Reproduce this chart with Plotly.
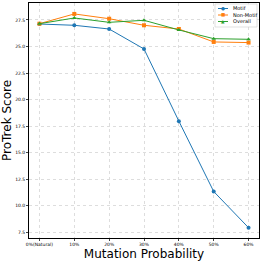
import plotly.graph_objects as go

categories = ["0%(Natural)", "10%", "20%", "30%", "40%", "50%", "60%"]
motif = [27.12, 27.0, 26.65, 24.77, 17.97, 11.34, 7.93]
non_motif = [27.15, 28.07, 27.62, 27.0, 26.65, 25.43, 25.37]
overall = [27.15, 27.69, 27.28, 27.47, 26.56, 25.74, 25.68]
y_ticks = [7.5, 10.0, 12.5, 15.0, 17.5, 20.0, 22.5, 25.0, 27.5]

x = list(range(len(categories)))
fig = go.Figure()
series = [
    ("Motif", motif, "#1f77b4", "circle", "●"),
    ("Non-Motif", non_motif, "#ff7f0e", "square", "■"),
    ("Overall", overall, "#2ca02c", "triangle-up", "▲"),
]
for name, vals, col, sym, _ in series:
    fig.add_trace(go.Scatter(
        x=x, y=vals, name=name, mode="lines+markers",
        line=dict(color=col, width=1),
        marker=dict(color=col, symbol=sym, size=4),
        showlegend=False,
    ))

W, H = 263, 262
L, R, T, B = 29, 4, 3, 24
pw, ph = W - L - R, H - T - B

def px(xp):
    return (xp - L) / pw

def py(yp):
    return 1 - (yp - T) / ph

# compact legend box (matplotlib-style)
fig.add_shape(type="rect", xref="paper", yref="paper",
              x0=px(215), x1=px(257), y0=py(27), y1=py(4),
              line=dict(color="#cccccc", width=0.6),
              fillcolor="rgba(255,255,255,0.85)", layer="above")
for i, (name, vals, col, sym, glyph) in enumerate(series):
    yy = 8.5 + i * 6.5
    fig.add_shape(type="line", xref="paper", yref="paper",
                  x0=px(218), x1=px(228), y0=py(yy), y1=py(yy),
                  line=dict(color=col, width=1), layer="above")
    fig.add_annotation(xref="paper", yref="paper", x=px(223), y=py(yy),
                       text=glyph, showarrow=False, xanchor="center",
                       yanchor="middle", font=dict(size=4.5, color=col))
    fig.add_annotation(xref="paper", yref="paper", x=px(231), y=py(yy),
                       text=name, showarrow=False, xanchor="left",
                       yanchor="middle", font=dict(size=5, color="black"))

fig.update_layout(
    width=W, height=H,
    margin=dict(l=L, r=R, t=T, b=B),
    plot_bgcolor="white", paper_bgcolor="white",
    font=dict(family="DejaVu Sans", color="black"),
    showlegend=False,
)
fig.update_xaxes(
    range=[-0.3, 6.3], tickmode="array", tickvals=x, ticktext=categories,
    tickfont=dict(size=4.5), showline=True, linecolor="black", linewidth=0.8,
    mirror=True, ticks="outside", ticklen=2, tickwidth=0.6,
    showgrid=True, gridcolor="#dddddd", griddash="dot", gridwidth=0.6,
    zeroline=False, automargin=False,
    title=dict(text="Mutation Probability", font=dict(size=12), standoff=1),
)
fig.update_yaxes(
    range=[6.96, 29.1], tickmode="array", tickvals=y_ticks,
    ticktext=[f"{v:.1f}" for v in y_ticks],
    tickfont=dict(size=4.5), showline=True, linecolor="black", linewidth=0.8,
    mirror=True, ticks="outside", ticklen=2, tickwidth=0.6,
    showgrid=True, gridcolor="#dddddd", griddash="dot", gridwidth=0.6,
    zeroline=False, automargin=False,
    title=dict(text="ProTrek Score", font=dict(size=12), standoff=1),
)

fig.write_html("out.html", config={"displayModeBar": False},
               post_script="document.body.style.margin='0';")
